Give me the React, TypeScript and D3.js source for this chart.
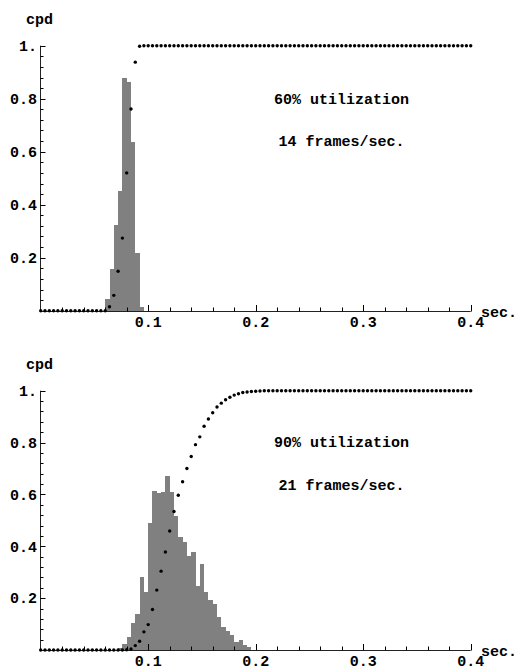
import React from 'react';
import * as d3 from 'd3';

// ---- data ----
const xTickValues = [0.1, 0.2, 0.3, 0.4];
const xTickLabels = ['0.1', '0.2', '0.3', '0.4'];
const yTickValues = [0.2, 0.4, 0.6, 0.8, 1.0];
const yTickLabels = ['0.2', '0.4', '0.6', '0.8', '1.'];
const binWidth = 0.004;
const cdfStep = 0.004;

const topBinStarts = [0.060, 0.064, 0.068, 0.072, 0.076, 0.080, 0.084, 0.088, 0.092];
const topBinHeights = [0.045, 0.158, 0.323, 0.452, 0.879, 0.863, 0.637, 0.218, 0.015];
// cdf sampled every 0.004 s from 0 to 0.4 (101 samples)
const topCdf = [
  0, 0, 0, 0, 0, 0, 0, 0, 0, 0, 0, 0, 0, 0, 0, 0,
  0.015, 0.058, 0.149, 0.274, 0.52, 0.761, 0.938, 0.998,
  1, 1, 1, 1, 1, 1, 1, 1, 1, 1, 1, 1, 1, 1, 1, 1, 1, 1, 1, 1, 1, 1, 1, 1, 1, 1,
  1, 1, 1, 1, 1, 1, 1, 1, 1, 1, 1, 1, 1, 1, 1, 1, 1, 1, 1, 1, 1, 1, 1, 1, 1, 1,
  1, 1, 1, 1, 1, 1, 1, 1, 1, 1, 1, 1, 1, 1, 1, 1, 1, 1, 1, 1, 1, 1, 1, 1, 1,
];

const bottomBinStarts = [
  0.072, 0.076, 0.080, 0.084, 0.088, 0.092, 0.096, 0.100, 0.104, 0.108, 0.112, 0.116,
  0.120, 0.124, 0.128, 0.132, 0.136, 0.140, 0.144, 0.148, 0.152, 0.156, 0.160, 0.164,
  0.168, 0.172, 0.176, 0.180, 0.184, 0.188, 0.192,
];
const bottomBinHeights = [
  0.006, 0.022, 0.05, 0.103, 0.138, 0.28, 0.225, 0.488, 0.614, 0.606, 0.611, 0.67,
  0.611, 0.517, 0.437, 0.418, 0.361, 0.377, 0.247, 0.332, 0.225, 0.192, 0.179, 0.128,
  0.088, 0.072, 0.056, 0.032, 0.037, 0.018, 0.01,
];
const bottomCdf = [
  0, 0, 0, 0, 0, 0, 0, 0, 0, 0, 0, 0, 0, 0, 0, 0, 0, 0, 0, 0,
  0.001, 0.004, 0.017, 0.034, 0.07, 0.098, 0.156, 0.231, 0.304, 0.378, 0.459, 0.534,
  0.597, 0.649, 0.7, 0.746, 0.792, 0.822, 0.863, 0.891, 0.915, 0.937, 0.952, 0.965,
  0.975, 0.983, 0.988, 0.993, 0.995, 0.997, 0.998, 0.999,
  1, 1, 1, 1, 1, 1, 1, 1, 1, 1, 1, 1, 1, 1, 1, 1, 1, 1, 1, 1, 1, 1, 1, 1, 1,
  1, 1, 1, 1, 1, 1, 1, 1, 1, 1, 1, 1, 1, 1, 1, 1, 1, 1, 1, 1, 1, 1, 1, 1,
];

const topLabels = ['60% utilization', '14 frames/sec.'];
const bottomLabels = ['90% utilization', '21 frames/sec.'];
const yAxisTitle = 'cpd';
const xAxisTitle = 'sec.';

const FONT = '"Liberation Mono", "DejaVu Sans Mono", monospace';

type PanelProps = {
  y0: number;
  y1: number;
  binStarts: number[];
  binHeights: number[];
  cdf: number[];
  labels: string[];
  labelY: number[];
  titleY: number;
};

const xScale = d3.scaleLinear().domain([0, 0.4]).range([40.7, 470.7]);

function Panel({ y0, y1, binStarts, binHeights, cdf, labels, labelY, titleY }: PanelProps) {
  const y = d3.scaleLinear().domain([0, 1]).range([y0, y1]);
  const axisX = 40.5;
  const axisY = Math.round(y0) + 0.5;
  const xMinor = d3.range(1, 20).map((i) => i * 0.02).filter((v) => Math.abs(v * 10 - Math.round(v * 10)) > 1e-6);
  const yMinor = d3.range(1, 25).map((i) => i * 0.04).filter((v) => Math.abs(v * 5 - Math.round(v * 5)) > 1e-6);
  return (
    <g>
      <g shapeRendering="crispEdges">
        {binStarts.map((s, i) => {
          const xa = Math.round(xScale(s));
          const xb = Math.round(xScale(s + binWidth));
          const yt = Math.round(y(binHeights[i]));
          return (
            <rect
              key={'b' + i}
              x={xa}
              width={xb - xa}
              y={yt}
              height={axisY - yt}
              fill="#808080"
            />
          );
        })}
      </g>
      {/* axes */}
      <line x1={axisX} x2={xScale(0.4)} y1={axisY} y2={axisY} stroke="#222" strokeWidth={1} />
      <line x1={axisX} x2={axisX} y1={axisY} y2={y(1)} stroke="#222" strokeWidth={1} />
      {xTickValues.map((v) => (
        <line key={'xt' + v} x1={Math.round(xScale(v)) + 0.5} x2={Math.round(xScale(v)) + 0.5} y1={axisY} y2={axisY - 6.5} stroke="#000" />
      ))}
      {xMinor.map((v) => (
        <line key={'xm' + v} x1={Math.round(xScale(v)) + 0.5} x2={Math.round(xScale(v)) + 0.5} y1={axisY} y2={axisY - 4} stroke="#000" />
      ))}
      {yTickValues.map((v) => (
        <line key={'yt' + v} x1={axisX} x2={axisX + 5} y1={Math.round(y(v)) + 0.5} y2={Math.round(y(v)) + 0.5} stroke="#000" />
      ))}
      {yMinor.map((v) => (
        <line key={'ym' + v} x1={axisX} x2={axisX + 3} y1={Math.round(y(v)) + 0.5} y2={Math.round(y(v)) + 0.5} stroke="#000" />
      ))}
      {/* cdf dots */}
      {cdf.map((c, i) => (
        <circle key={'c' + i} cx={xScale(i * cdfStep)} cy={y(c)} r={1.7} fill="#000" />
      ))}
      {/* tick labels */}
      <g fontFamily={FONT} fontWeight="bold" fontSize={15} fill="#000">
        {xTickValues.map((v, i) => (
          <text key={'xl' + v} x={xScale(v)} y={axisY + 10} dy="0.35em" textAnchor="middle">
            {xTickLabels[i]}
          </text>
        ))}
        {yTickValues.map((v, i) => (
          <text key={'yl' + v} x={37} y={y(v)} dy="0.35em" textAnchor="end">
            {yTickLabels[i]}
          </text>
        ))}
        <text x={481} y={axisY} dy="0.35em" textAnchor="start">{xAxisTitle}</text>
        <text x={26} y={titleY} dy="0.35em" textAnchor="start">{yAxisTitle}</text>
        {labels.map((l, i) => (
          <text key={'lab' + i} x={341.5} y={labelY[i]} dy="0.35em" textAnchor="middle">
            {l}
          </text>
        ))}
      </g>
    </g>
  );
}

export default function App() {
  return (
    <svg
      width={516}
      height={671}
      style={{ position: 'absolute', left: 0, top: 0, background: '#fff' }}
    >
      <rect width={516} height={671} fill="#fff" />
      <Panel
        y0={310.7}
        y1={45.7}
        binStarts={topBinStarts}
        binHeights={topBinHeights}
        cdf={topCdf}
        labels={topLabels}
        labelY={[98.3, 141]}
        titleY={18.3}
      />
      <Panel
        y0={650}
        y1={390.7}
        binStarts={bottomBinStarts}
        binHeights={bottomBinHeights}
        cdf={bottomCdf}
        labels={bottomLabels}
        labelY={[441.3, 484.5]}
        titleY={363.3}
      />
    </svg>
  );
}
